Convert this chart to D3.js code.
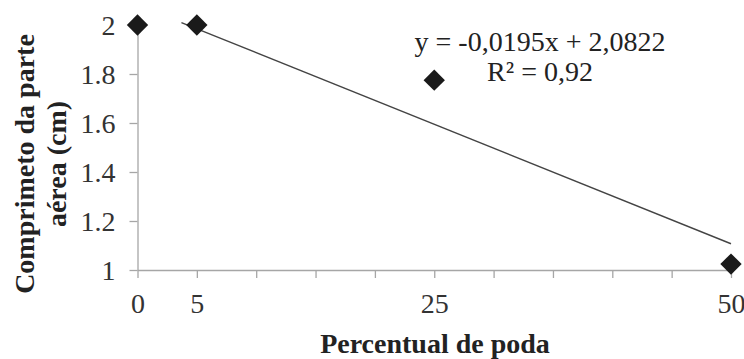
<!DOCTYPE html>
<html>
<head>
<meta charset="utf-8">
<script src="https://cdn.jsdelivr.net/npm/d3@7"></script>
<style>
  body { margin: 0; background: #fff; }
  svg text { font-family: "Liberation Serif", "Times New Roman", serif; }
</style>
</head>
<body>
<div id="chart"></div>
<script>
// data
const percentual = [0, 5, 25, 50];
const comprimento = [2.0, 2.0, 1.775, 1.024];
const yTicks = [1, 1.2, 1.4, 1.6, 1.8, 2];
const xTicks = [0, 5, 10, 15, 20, 25, 30, 35, 40, 45, 50];
const xLabels = [0, 5, 25, 50];
const trendSlope = -0.0195;
const trendIntercept = 2.0822;
const trendRange = [3.7, 50];
const eqLines = ["y = -0,0195x + 2,0822", "R\u00b2 = 0,92"];

const width = 744, height = 359;
const margin = {top: 25, right: 13, bottom: 89, left: 137.5};

const svg = d3.select("#chart").append("svg")
    .attr("width", width)
    .attr("height", height);

const x = d3.scaleLinear().domain([0, 50]).range([margin.left, width - margin.right]);
const y = d3.scaleLinear().domain([1, 2]).range([height - margin.bottom, margin.top]);

const axisColor = "#a6a6a6";

// y axis
const yAxis = svg.append("g")
    .attr("transform", `translate(${margin.left},0)`)
    .call(d3.axisLeft(y).tickValues(yTicks).tickSize(8).tickSizeOuter(0).tickPadding(14)
        .tickFormat(d => (d === 1 || d === 2) ? String(d) : d.toFixed(1)));
yAxis.selectAll("path, line").attr("stroke", axisColor).attr("stroke-width", 1.3);
yAxis.selectAll("text")
    .attr("fill", "#333")
    .style("font-size", "28px")
    .attr("dy", "0.34em");

// x axis
const xAxis = svg.append("g")
    .attr("transform", `translate(0,${height - margin.bottom})`)
    .call(d3.axisBottom(x).tickValues(xTicks).tickSize(8).tickSizeOuter(0).tickPadding(15)
        .tickFormat(d => xLabels.includes(d) ? String(d) : ""));
xAxis.selectAll("path, line").attr("stroke", axisColor).attr("stroke-width", 1.3);
xAxis.selectAll("text")
    .attr("fill", "#333")
    .style("font-size", "28px");

// trend line
svg.append("path")
    .datum(trendRange)
    .attr("fill", "none")
    .attr("stroke", "#444")
    .attr("stroke-width", 1.4)
    .attr("d", d3.line()
        .x(d => x(d))
        .y(d => y(trendSlope * d + trendIntercept)));

// markers
const diamond = d3.symbol().type(d3.symbolDiamond2).size(290);
svg.append("g")
    .selectAll("path")
    .data(percentual)
    .enter().append("path")
    .attr("transform", (d, i) => `translate(${x(d)},${y(comprimento[i])})`)
    .attr("d", diamond)
    .attr("fill", "#1a1a1a");

// equation
svg.append("g")
    .selectAll("text")
    .data(eqLines)
    .enter().append("text")
    .attr("x", 540)
    .attr("y", (d, i) => 51 + i * 30)
    .attr("text-anchor", "middle")
    .attr("fill", "#222")
    .style("font-size", "28px")
    .text(d => d);

// axis titles
svg.append("text")
    .attr("x", 435)
    .attr("y", 353)
    .attr("text-anchor", "middle")
    .attr("fill", "#222")
    .style("font-size", "28px")
    .style("font-weight", "bold")
    .text("Percentual de poda");

const yTitle = svg.append("text")
    .attr("transform", "translate(0,164) rotate(-90)")
    .attr("text-anchor", "middle")
    .attr("fill", "#222")
    .style("font-size", "28px")
    .style("font-weight", "bold");
yTitle.append("tspan").attr("x", 0).attr("y", 34).text("Comprimeto da parte");
yTitle.append("tspan").attr("x", 0).attr("y", 66).text("aérea (cm)");
</script>
</body>
</html>
